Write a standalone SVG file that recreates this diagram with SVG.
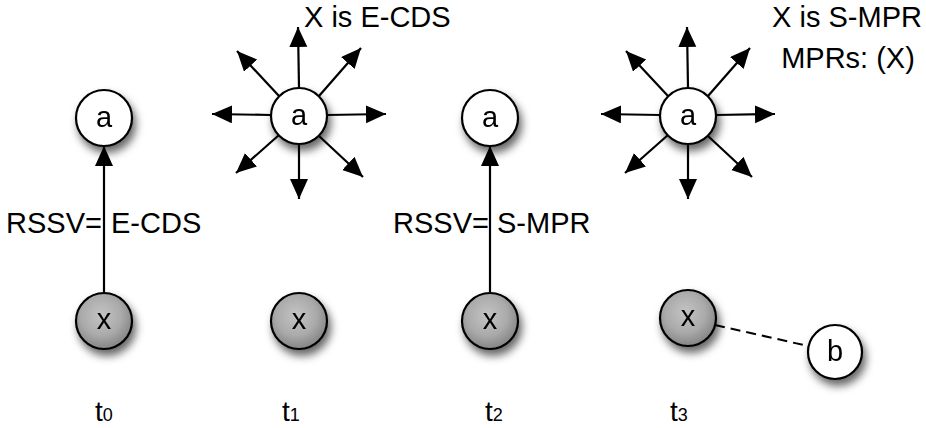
<svg xmlns="http://www.w3.org/2000/svg" width="926" height="428" viewBox="0 0 926 428">
<defs>
<style>
text{font-family:"Liberation Sans",Arial,Helvetica,sans-serif;fill:#000}
.lbl{font-size:29px}
.nl{font-size:29px;text-anchor:middle}
.tl{font-size:28px}
.sub{font-size:18px}
.white{fill:#fff;stroke:#000;stroke-width:2.2}
.gray{fill:url(#gg);stroke:#000;stroke-width:2.2}
.arr{stroke:#000;stroke-width:2.2;fill:none;marker-end:url(#ah)}
.dash{stroke:#000;stroke-width:2;fill:none;stroke-dasharray:10 6}
</style>
<radialGradient id="gg" cx="0.45" cy="0.4" r="0.6">
<stop offset="0" stop-color="#c4c4c4"/>
<stop offset="0.6" stop-color="#aaaaaa"/>
<stop offset="1" stop-color="#858585"/>
</radialGradient>
<filter id="sh" x="-50%" y="-50%" width="220%" height="220%">
<feDropShadow dx="3" dy="6" stdDeviation="4.5" flood-color="#000" flood-opacity="0.6"/>
</filter>
<marker id="ah" markerUnits="userSpaceOnUse" markerWidth="22" markerHeight="20" refX="20" refY="9" orient="auto">
<path d="M0,0 L20,9 L0,18 z" fill="#000"/>
</marker>
</defs>

<g id="connectors">
<line class="arr" x1="104" y1="292" x2="104" y2="146"/>
<line class="arr" x1="490" y1="292" x2="490" y2="146"/>
<g id="star-t1">
<line class="arr" x1="299" y1="88" x2="298" y2="27"/>
<line class="arr" x1="299" y1="144" x2="299" y2="199"/>
<line class="arr" x1="271" y1="115" x2="212" y2="114"/>
<line class="arr" x1="327" y1="115" x2="386" y2="114"/>
<line class="arr" x1="279" y1="96" x2="237" y2="51"/>
<line class="arr" x1="319" y1="96" x2="361" y2="48"/>
<line class="arr" x1="279" y1="135" x2="236" y2="173"/>
<line class="arr" x1="319" y1="136" x2="363" y2="177"/>
</g>
<g id="star-t3">
<line class="arr" x1="688" y1="88" x2="687" y2="27"/>
<line class="arr" x1="688" y1="144" x2="688" y2="199"/>
<line class="arr" x1="660" y1="115" x2="601" y2="114"/>
<line class="arr" x1="716" y1="115" x2="775" y2="114"/>
<line class="arr" x1="668" y1="96" x2="626" y2="51"/>
<line class="arr" x1="708" y1="96" x2="750" y2="48"/>
<line class="arr" x1="668" y1="135" x2="625" y2="173"/>
<line class="arr" x1="708" y1="136" x2="752" y2="177"/>
</g>
<line class="dash" x1="715" y1="325" x2="808" y2="346"/>
</g>

<g id="a0" filter="url(#sh)"><circle class="white" cx="104" cy="118" r="28"/><text class="nl" x="104" y="127">a</text></g>
<g id="x0" filter="url(#sh)"><circle class="gray" cx="104" cy="321" r="28"/><text class="nl" x="104" y="329">x</text></g>
<g id="a1" filter="url(#sh)"><circle class="white" cx="299" cy="116" r="28"/><text class="nl" x="299" y="125">a</text></g>
<g id="x1" filter="url(#sh)"><circle class="gray" cx="299" cy="321" r="28"/><text class="nl" x="299" y="329">x</text></g>
<g id="a2" filter="url(#sh)"><circle class="white" cx="490" cy="118" r="28"/><text class="nl" x="490" y="127">a</text></g>
<g id="x2" filter="url(#sh)"><circle class="gray" cx="490" cy="321" r="28"/><text class="nl" x="490" y="329">x</text></g>
<g id="a3" filter="url(#sh)"><circle class="white" cx="688" cy="116" r="28"/><text class="nl" x="688" y="125">a</text></g>
<g id="x3" filter="url(#sh)"><circle class="gray" cx="688" cy="318" r="28"/><text class="nl" x="688" y="326">x</text></g>
<g id="b" filter="url(#sh)"><circle class="white" cx="835" cy="352" r="27"/><text class="nl" x="835" y="361">b</text></g>

<g id="labels">
<text class="lbl" y="233"><tspan x="6">RSSV=</tspan><tspan x="111">E-CDS</tspan></text>
<text class="lbl" y="233"><tspan x="393">RSSV=</tspan><tspan x="497">S-MPR</tspan></text>
<text class="lbl" x="304" y="27">X is E-CDS</text>
<text class="lbl" x="847" y="27" text-anchor="middle">X is S-MPR</text>
<text class="lbl" x="848" y="68" text-anchor="middle">MPRs: (X)</text>
<text class="tl" x="95" y="421">t<tspan class="sub">0</tspan></text>
<text class="tl" x="282" y="421">t<tspan class="sub">1</tspan></text>
<text class="tl" x="485" y="421">t<tspan class="sub">2</tspan></text>
<text class="tl" x="670" y="421">t<tspan class="sub">3</tspan></text>
</g>
</svg>
